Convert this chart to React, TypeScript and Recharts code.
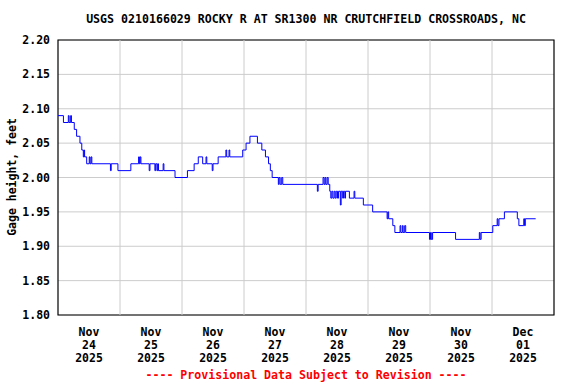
// Gage height hydrograph — USGS 0210166029, Nov 24 – Dec 1 2025
import React from 'react'
import {
  LineChart, Line, XAxis, YAxis, CartesianGrid, ReferenceLine, ReferenceArea,
} from 'recharts'

const TITLE = 'USGS 0210166029 ROCKY R AT SR1300 NR CRUTCHFIELD CROSSROADS, NC'
const FOOTER = '---- Provisional Data Subject to Revision ----'
const MONO = '"DejaVu Sans Mono", "Liberation Mono", monospace'

// hours since Nov 24 00:00 where the reading changes
const hours = [
  0, 2.1, 4.0, 4.3, 4.9, 5.2, 6.3, 7.2, 8.5, 9.2, 9.8, 10.1, 10.3, 11.1,
  12.1, 12.4, 12.8, 13.1, 20.3, 20.6, 23.2, 28.2, 31.2, 31.5, 31.8, 32.1,
  35.3, 35.6, 37.5, 37.8, 38.3, 38.6, 38.9, 40.7, 41.0, 45.3, 50.1, 52.7,
  54.3, 56.0, 57.3, 57.6, 59.7, 60.0, 62.0, 65.0, 65.3, 66.2, 66.5, 71.5,
  72.8, 74.3, 77.2, 78.9, 80.3, 81.5, 82.2, 82.9, 85.3, 85.6, 86.0, 86.6,
  87.0, 100.4, 100.7, 102.6, 103.0, 103.4, 103.7, 104.2, 104.6, 105.2,
  105.6, 106.0, 106.4, 106.9, 107.3, 107.7, 108.2, 108.6, 109.3, 109.6,
  110.2, 110.5, 111.0, 111.3, 112.8, 114.6, 114.9, 118.2, 121.8, 127.4,
  127.7, 128.0, 129.6, 130.4, 132.4, 132.7, 133.3, 133.6, 134.2, 134.6,
  143.8, 144.2, 144.5, 145.0, 153.9, 163.1, 163.4, 163.8, 168.3, 170.0,
  170.3, 170.7, 172.8, 177.8, 178.4, 180.3, 180.6, 180.9, 184.9,
]

const gageFt = [
  2.09, 2.08, 2.09, 2.08, 2.09, 2.08, 2.07, 2.06, 2.05, 2.04, 2.03, 2.04, 2.03, 2.02,
  2.03, 2.02, 2.03, 2.02, 2.01, 2.02, 2.01, 2.02, 2.03, 2.02, 2.03, 2.02,
  2.01, 2.02, 2.01, 2.02, 2.01, 2.02, 2.01, 2.02, 2.01, 2.00, 2.01, 2.02,
  2.03, 2.02, 2.03, 2.02, 2.01, 2.02, 2.03, 2.04, 2.03, 2.04, 2.03, 2.04,
  2.05, 2.06, 2.05, 2.04, 2.03, 2.02, 2.01, 2.00, 1.99, 2.00, 1.99, 2.00,
  1.99, 1.98, 1.99, 2.00, 1.99, 2.00, 1.99, 2.00, 1.99, 1.98,
  1.97, 1.98, 1.97, 1.98, 1.97, 1.98, 1.97, 1.98, 1.96, 1.98,
  1.97, 1.98, 1.97, 1.98, 1.97, 1.98, 1.97, 1.96, 1.95, 1.94,
  1.95, 1.94, 1.93, 1.92, 1.93, 1.92, 1.93, 1.92, 1.93, 1.92,
  1.91, 1.92, 1.91, 1.92, 1.91, 1.92, 1.91, 1.92, 1.93, 1.94,
  1.93, 1.94, 1.95, 1.94, 1.93, 1.94, 1.93, 1.94, 1.94,
]

// day labels sit at noon of each day, grid lines at midnight
const labelHours = [12, 36, 60, 84, 108, 132, 156, 180]
const labelMonths = ['Nov', 'Nov', 'Nov', 'Nov', 'Nov', 'Nov', 'Nov', 'Dec']
const labelDays = ['24', '25', '26', '27', '28', '29', '30', '01']
const labelYears = ['2025', '2025', '2025', '2025', '2025', '2025', '2025', '2025']
const midnights = [24, 48, 72, 96, 120, 144, 168]
const yTicks = [1.8, 1.85, 1.9, 1.95, 2.0, 2.05, 2.1, 2.15, 2.2]

const data = hours.map((t, i) => ({ t, v: gageFt[i] }))

function DayTick({ x, y, index }: { x?: number; y?: number; index?: number }) {
  const i = index ?? 0
  return (
    <text x={x} y={y} textAnchor="middle" fontFamily={MONO} fontWeight="bold" fontSize={11.5} fill="#000">
      <tspan x={x} dy={19}>{labelMonths[i]}</tspan>
      <tspan x={x} dy={13}>{labelDays[i]}</tspan>
      <tspan x={x} dy={13}>{labelYears[i]}</tspan>
    </text>
  )
}

export default function App() {
  return (
    <div style={{ position: 'absolute', left: 0, top: 0, width: 576, height: 384, background: '#fff' }}>
      <div style={{
        position: 'absolute', left: 58, width: 496, top: 11, textAlign: 'center',
        fontFamily: MONO, fontWeight: 'bold', fontSize: 11.6, lineHeight: '16px', whiteSpace: 'pre',
      }}>
        {TITLE}
      </div>
      <LineChart width={576} height={384} data={data} margin={{ top: 40, right: 22, bottom: 9, left: 0 }}>
        <CartesianGrid vertical={false} stroke="#cccccc" />
        {midnights.map((h) => (
          <ReferenceLine key={h} x={h} stroke="#cccccc" />
        ))}
        <XAxis
          type="number"
          dataKey="t"
          domain={[0, 192]}
          ticks={labelHours}
          interval={0}
          tick={<DayTick />}
          axisLine={false}
          tickLine={false}
          tickSize={0}
          height={60}
        />
        <YAxis
          domain={[1.8, 2.2]}
          ticks={yTicks}
          interval={0}
          width={58}
          tickFormatter={(v: number) => v.toFixed(2)}
          tick={{ fontFamily: MONO, fontWeight: 'bold', fontSize: 11.5, fill: '#000' }}
          axisLine={false}
          tickLine={false}
          tickSize={0}
          tickMargin={8}
        />
        <Line
          type="stepAfter"
          dataKey="v"
          stroke="#0000ff"
          strokeWidth={1}
          dot={false}
          isAnimationActive={false}
        />
        <ReferenceArea x1={0} x2={192} y1={1.8} y2={2.2} fill="none" stroke="#000" strokeWidth={1.2} ifOverflow="visible" />
      </LineChart>
      <div style={{
        position: 'absolute', left: 12, top: 177, width: 0, height: 0,
      }}>
        <div style={{
          position: 'absolute', left: 0, top: 0, transform: 'translate(-50%, -50%) rotate(-90deg)',
          fontFamily: MONO, fontWeight: 'bold', fontSize: 11.5, whiteSpace: 'pre',
        }}>
          Gage height, feet
        </div>
      </div>
      <div style={{
        position: 'absolute', left: 58, width: 496, top: 367, textAlign: 'center', color: '#ff0000',
        fontFamily: MONO, fontWeight: 'bold', fontSize: 11.6, lineHeight: '16px', whiteSpace: 'pre',
      }}>
        {FOOTER}
      </div>
    </div>
  )
}
